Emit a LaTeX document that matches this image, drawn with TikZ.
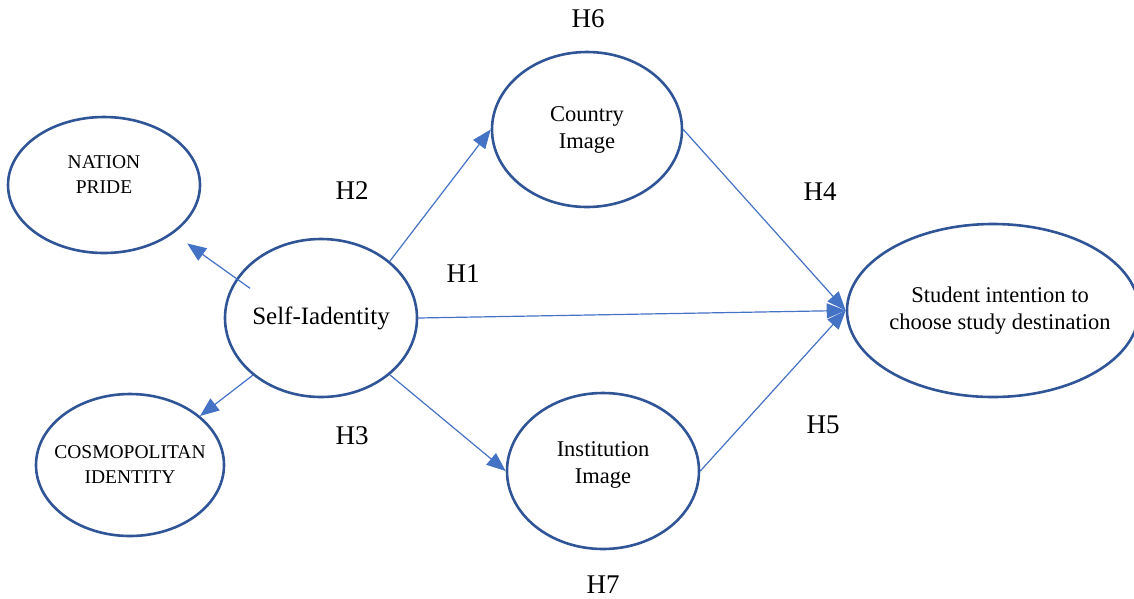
\documentclass[tikz,border=0pt]{standalone}
\usepackage{fontspec}
\setmainfont{Liberation Serif}
\usetikzlibrary{shapes.geometric,arrows.meta}
\definecolor{ringblue}{HTML}{2F5597}
\definecolor{arrowblue}{HTML}{4472C4}

\begin{document}
\begin{tikzpicture}[x=1pt,y=-1pt,
  factor/.style={ellipse, draw=ringblue, line width=2.6pt, inner sep=0pt},
  lbl/.style={align=center, font=\fontsize{19.5}{25}\selectfont},
  lblbig/.style={align=center, font=\fontsize{22.5}{27}\selectfont},
  link/.style={draw=arrowblue, line width=1.2pt, -{Triangle[length=19pt,width=15pt]}},
  hyp/.style={font=\fontsize{27}{32}\selectfont}]

  % Frame
  \useasboundingbox (0,0) rectangle (1134,598);

  % Factors
  \node[factor, minimum width=192pt, minimum height=136pt,
        label={[lbl, yshift=10pt]center:NATION\\PRIDE}] (nation) at (104,185) {};
  \node[factor, minimum width=188pt, minimum height=142pt,
        label={[lbl]center:COSMOPOLITAN\\IDENTITY}] (cosmo) at (130,465) {};
  \node[factor, minimum width=192pt, minimum height=158pt,
        label={[lblbig, font=\fontsize{25}{30}\selectfont]center:Self-Iadentity}] (self) at (321,318) {};
  \node[factor, minimum width=190pt, minimum height=155pt,
        label={[lblbig]center:Country\\Image}] (country) at (587,129.5) {};
  \node[factor, minimum width=192pt, minimum height=156pt,
        label={[lblbig, yshift=6pt]center:Institution\\Image}] (inst) at (603,471) {};
  \node[factor, minimum width=292pt, minimum height=173pt,
        label={[lblbig, xshift=7pt]center:Student intention to\\choose study destination}] (student) at (993,310.5) {};

  % Paths
  \draw[link, shorten <=-17pt, shorten >=17pt] (self.155) -- (nation.-35);
  \draw[link] (self.220) -- (cosmo.35);
  \draw[link] (self.north east) -- (country.west);
  \draw[link] (self.south east) -- (inst.west);
  \draw[link] (self.east) -- (student.west);
  \draw[link] (country.east) -- (student.west);
  \draw[link] (inst.east) -- (student.west);

  % Hypotheses
  \node[hyp] (h6) at (588,19)  {H6};
  \node[hyp] (h2) at (352,191) {H2};
  \node[hyp] (h4) at (820,192) {H4};
  \node[hyp] (h1) at (463,274) {H1};
  \node[hyp] (h3) at (352,436) {H3};
  \node[hyp] (h5) at (823,425) {H5};
  \node[hyp] (h7) at (603,585) {H7};

\end{tikzpicture}
\end{document}
